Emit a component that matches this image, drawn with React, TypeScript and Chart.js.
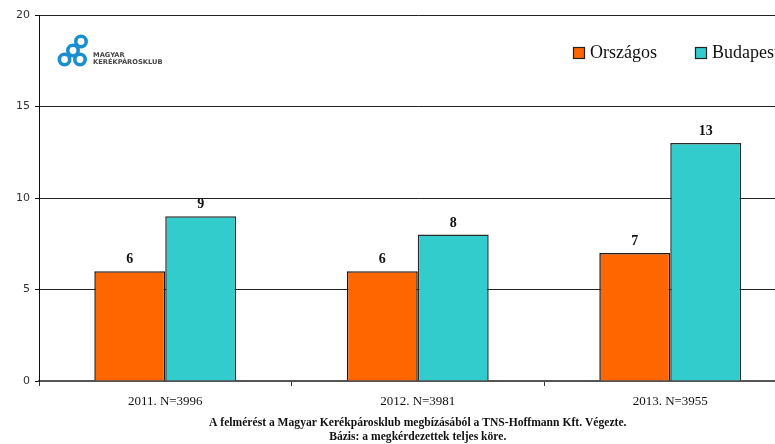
import React, { useEffect, useRef } from "react";
import { Chart, registerables } from "chart.js";

Chart.register(...registerables);

const categories = ["2011. N=3996", "2012. N=3981", "2013. N=3955"];
const orszagos = [6, 6, 7];
const budapest = [9, 8, 13];
const seriesNames = ["Országos", "Budapest"];
const seriesColors = ["#FF6600", "#33CCCC"];
const yMin = 0;
const yMax = 20;
const yStep = 5;
const footerLines = [
  "A felmérést a Magyar Kerékpárosklub megbízásából a TNS-Hoffmann Kft. Végezte.",
  "Bázis: a megkérdezettek teljes köre.",
];
const logoLines = ["MAGYAR", "KERÉKPÁROSKLUB"];

const W = 836;
const H = 444;

const valueLabels = {
  id: "valueLabels",
  afterDatasetsDraw(chart: any) {
    const ctx = chart.ctx;
    ctx.save();
    ctx.font = "bold 14px 'Liberation Serif', serif";
    ctx.fillStyle = "#111";
    ctx.textAlign = "center";
    ctx.textBaseline = "alphabetic";
    chart.data.datasets.forEach((ds: any, i: number) => {
      const meta = chart.getDatasetMeta(i);
      meta.data.forEach((el: any, j: number) => {
        ctx.fillText(String(ds.data[j]), el.x, el.y - 8);
      });
    });
    ctx.restore();
  },
};

const overlay = {
  id: "overlay",
  afterDraw(chart: any) {
    const ctx = chart.ctx;
    const area = chart.chartArea;
    ctx.save();
    // legend
    ctx.font = "18px 'Liberation Serif', serif";
    ctx.textBaseline = "middle";
    ctx.textAlign = "left";
    let x = 573;
    const cy = 53;
    chart.data.datasets.forEach((ds: any) => {
      ctx.fillStyle = ds.backgroundColor;
      ctx.fillRect(x, cy - 6, 11, 11);
      ctx.strokeStyle = "#222";
      ctx.lineWidth = 1.2;
      ctx.strokeRect(x + 0.5, cy - 5.5, 11, 11);
      ctx.fillStyle = "#111";
      ctx.fillText(ds.label, x + 17, cy);
      x += 17 + ctx.measureText(ds.label).width + 38;
    });
    // footer
    const cx = (area.left + area.right) / 2;
    ctx.font = "bold 11.6px 'Liberation Serif', serif";
    ctx.textAlign = "center";
    ctx.fillStyle = "#111";
    ctx.fillText(footerLines[0], cx, 423);
    ctx.fillText(footerLines[1], cx, 437);
    // logo
    ctx.strokeStyle = "#1a8fcf";
    ctx.lineWidth = 3.6;
    const rings = [
      [81, 41.5],
      [73, 50.5],
      [64.5, 59.5],
      [80, 59.5],
    ];
    rings.forEach(([rx, ry]) => {
      ctx.beginPath();
      ctx.arc(rx, ry, 5.2, 0, Math.PI * 2);
      ctx.stroke();
    });
    ctx.fillStyle = "#444";
    ctx.font = "bold 6.7px 'DejaVu Sans', sans-serif";
    ctx.textAlign = "left";
    ctx.fillText(logoLines[0], 93, 55.5);
    ctx.fillText(logoLines[1], 93, 62.5);
    ctx.restore();
  },
};

export default function App() {
  const ref = useRef<HTMLCanvasElement>(null);
  useEffect(() => {
    document.body.style.margin = "0";
    document.body.style.overflow = "hidden";
    const canvas = ref.current!;
    const chart = new Chart(canvas, {
      type: "bar",
      data: {
        labels: categories,
        datasets: [
          {
            label: seriesNames[0],
            data: orszagos,
            backgroundColor: seriesColors[0],
            borderColor: "#1a1a1a",
            borderWidth: 1.5,
          },
          {
            label: seriesNames[1],
            data: budapest,
            backgroundColor: seriesColors[1],
            borderColor: "#2a2a2a",
            borderWidth: 1.5,
          },
        ],
      },
      options: {
        responsive: false,
        animation: false,
        devicePixelRatio: 1,
        layout: { padding: { top: 15, right: 39.5, left: 0, bottom: 0 } },
        datasets: { bar: { categoryPercentage: 0.562, barPercentage: 1 } },
        plugins: {
          legend: { display: false },
          tooltip: { enabled: false },
          title: { display: false },
        },
        scales: {
          x: {
            afterFit: (s: any) => {
              s.height = 63;
            },
            grid: {
              display: true,
              drawOnChartArea: false,
              drawTicks: true,
              tickLength: 5,
              offset: true,
              color: "#333",
              tickColor: "#333",
            },
            border: { display: true, color: "#555", width: 2 },
            ticks: {
              padding: 8,
              color: "#111",
              font: { family: "'Liberation Serif', serif", size: 13 },
            },
          },
          y: {
            min: yMin,
            max: yMax,
            afterFit: (s: any) => {
              s.width = 39;
            },
            grid: {
              color: (c: any) => (c.tick && c.tick.value === 0 ? "rgba(0,0,0,0)" : "#222"),
              tickColor: "#111",
              tickLength: 4,
              drawTicks: true,
            },
            border: { display: true, color: "#111", width: 1 },
            ticks: {
              stepSize: yStep,
              padding: 5,
              color: "#333",
              font: { family: "'DejaVu Sans', sans-serif", size: 11 },
            },
          },
        },
      },
      plugins: [valueLabels, overlay],
    });
    return () => chart.destroy();
  }, []);
  return <canvas ref={ref} width={W} height={H} style={{ display: "block" }} />;
}
